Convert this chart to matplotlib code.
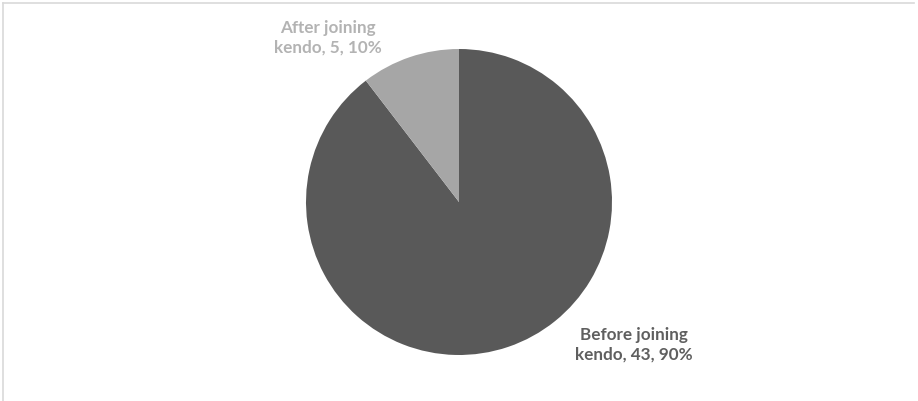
import matplotlib
matplotlib.use("Agg")
import matplotlib.pyplot as plt
from matplotlib.lines import Line2D

categories = ["Before joining kendo", "After joining kendo"]
counts = [43, 5]
slice_colors = ["#595959", "#A6A6A6"]
label_colors = ["#5f5f5f", "#b3b3b3"]

W, H = 918, 402
fig = plt.figure(figsize=(W / 100, H / 100), dpi=100)
fig.patch.set_facecolor("white")

# chart-area frame (top and left edges visible)
fig.add_artist(Line2D([2.5 / W, 914 / W], [1 - 3.5 / H, 1 - 3.5 / H],
                      color="#d9d9d9", lw=1.2, transform=fig.transFigure))
fig.add_artist(Line2D([2.5 / W, 2.5 / W], [0, 1 - 3.5 / H],
                      color="#d9d9d9", lw=1.2, transform=fig.transFigure))

cx, cy, r = 459, 203, 153
ax = fig.add_axes([(cx - r) / W, (H - cy - r) / H, 2 * r / W, 2 * r / H])
ax.pie(counts, colors=slice_colors, startangle=90, counterclock=False,
       radius=1.0, wedgeprops=dict(linewidth=0))
ax.set_xlim(-1, 1)
ax.set_ylim(-1, 1)
ax.set_aspect("equal")
ax.axis("off")

total = sum(counts)
label_pos = [(1.145, -0.925), (-0.86, 1.08)]
for name, n, col, (lx, ly) in zip(categories, counts, label_colors, label_pos):
    pct = round(100 * n / total)
    first, second = name.rsplit(" ", 1)
    ax.text(lx, ly, f"{first}\n{second}, {n}, {pct}%", ha="center", va="center",
            fontsize=12.3, fontweight="bold", family=["Lato", "DejaVu Sans"],
            color=col, linespacing=1.3, clip_on=False)

fig.savefig("out.png", dpi=100, facecolor="white")
